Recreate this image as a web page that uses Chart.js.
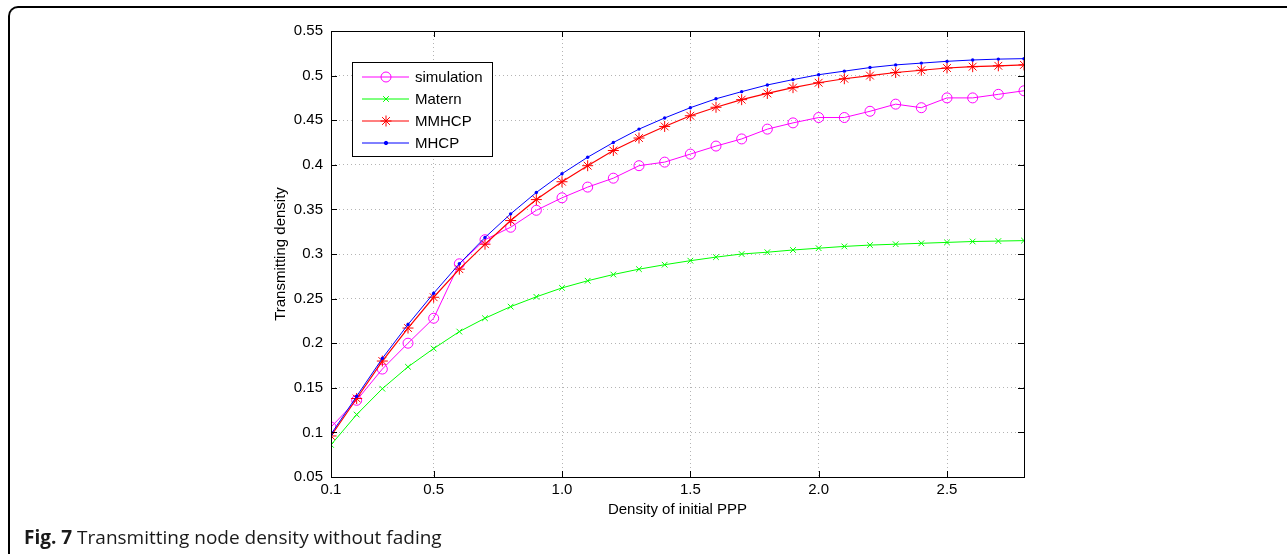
<!DOCTYPE html>
<html>
<head>
<meta charset="utf-8">
<script src="https://cdn.jsdelivr.net/npm/chart.js@4"></script>
<style>
  body { margin: 0; background: #fff; }
  #wrap { position: relative; width: 1287px; height: 554px; overflow: hidden; }
  #frame {
    position: absolute; left: 8px; top: 6px; width: 1300px; height: 556px;
    border-left: 2px solid #000; border-top: 2px solid #000;
    border-top-left-radius: 10px; border-bottom-left-radius: 10px;
  }
  #chart { position: absolute; left: 0; top: 0; }
  #caption {
    position: absolute; left: 24px; top: 524px;
    font-family: "Open Sans", sans-serif; font-size: 19px; color: #1a1a1a;
  }
</style>
</head>
<body>
<div id="wrap">
  <div id="frame"></div>
  <canvas id="chart" width="1287" height="554"></canvas>
  <div id="caption"><b>Fig. 7</b> Transmitting node density without fading</div>
</div>
<script>
// density of initial PPP
const xValues = [0.1, 0.2, 0.3, 0.4, 0.5, 0.6, 0.7, 0.8, 0.9, 1.0,
  1.1, 1.2, 1.3, 1.4, 1.5, 1.6, 1.7, 1.8, 1.9, 2.0,
  2.1, 2.2, 2.3, 2.4, 2.5, 2.6, 2.7, 2.8];

const simulation = [0.106, 0.136, 0.171, 0.200, 0.228, 0.289, 0.316, 0.330, 0.349, 0.363,
  0.375, 0.385, 0.399, 0.403, 0.412, 0.421, 0.429, 0.440, 0.447, 0.453,
  0.453, 0.460, 0.468, 0.464, 0.475, 0.475, 0.479, 0.483];
const matern = [0.086, 0.120, 0.149, 0.1735, 0.194, 0.213, 0.228, 0.241, 0.252, 0.262,
  0.270, 0.277, 0.283, 0.288, 0.2925, 0.2965, 0.300, 0.302, 0.3045, 0.3065,
  0.3085, 0.310, 0.311, 0.312, 0.313, 0.314, 0.3145, 0.315];
const mmhcp = [0.096, 0.138, 0.180, 0.217, 0.2515, 0.283, 0.311, 0.3375, 0.361, 0.381,
  0.399, 0.416, 0.430, 0.443, 0.455, 0.4645, 0.473, 0.480, 0.4865, 0.492,
  0.4965, 0.500, 0.5035, 0.506, 0.5085, 0.510, 0.511, 0.512];
const mhcp = [0.098, 0.1405, 0.183, 0.221, 0.256, 0.289, 0.3185, 0.345, 0.369, 0.390,
  0.4085, 0.425, 0.440, 0.4525, 0.464, 0.474, 0.482, 0.4895, 0.4955, 0.501,
  0.505, 0.509, 0.512, 0.514, 0.516, 0.5175, 0.5185, 0.519];

const xTicks = [0.1, 0.5, 1.0, 1.5, 2.0, 2.5];
const xTickLabels = ['0.1', '0.5', '1.0', '1.5', '2.0', '2.5'];
const yTicks = [0.05, 0.1, 0.15, 0.2, 0.25, 0.3, 0.35, 0.4, 0.45, 0.5, 0.55];
const yTickLabels = ['0.05', '0.1', '0.15', '0.2', '0.25', '0.3', '0.35', '0.4', '0.45', '0.5', '0.55'];

const FONT = '"Liberation Sans", Arial, sans-serif';

function pts(ys) {
  return ys.map((y, i) => ({ x: xValues[i], y: y }));
}

// MATLAB style box with inward ticks
const boxPlugin = {
  id: 'box',
  afterDatasetsDraw(chart) {
    const { ctx, chartArea: a, scales } = chart;
    ctx.save();
    ctx.strokeStyle = '#000';
    ctx.lineWidth = 1;
    ctx.beginPath();
    xTicks.forEach(v => {
      const px = Math.round(scales.x.getPixelForValue(v)) + 0.5;
      ctx.moveTo(px, a.bottom); ctx.lineTo(px, a.bottom - 6);
      ctx.moveTo(px, a.top); ctx.lineTo(px, a.top + 6);
    });
    yTicks.forEach(v => {
      const py = Math.round(scales.y.getPixelForValue(v)) + 0.5;
      ctx.moveTo(a.left, py); ctx.lineTo(a.left + 6, py);
      ctx.moveTo(a.right, py); ctx.lineTo(a.right - 6, py);
    });
    ctx.stroke();
    ctx.strokeRect(Math.round(a.left) + 0.5, Math.round(a.top) + 0.5,
      Math.round(a.right - a.left), Math.round(a.bottom - a.top));
    ctx.restore();
  }
};

// legend box inside the plot, top left
const legendPlugin = {
  id: 'boxLegend',
  afterDraw(chart) {
    const { ctx, chartArea: a } = chart;
    const x0 = a.left + 21, y0 = a.top + 31, w = 140, h = 94;
    ctx.save();
    ctx.fillStyle = '#fff';
    ctx.fillRect(x0, y0, w, h);
    ctx.strokeStyle = '#000';
    ctx.lineWidth = 1;
    ctx.strokeRect(x0 + 0.5, y0 + 0.5, w, h);
    ctx.font = '15px ' + FONT;
    ctx.textBaseline = 'middle';
    chart.data.datasets.forEach((ds, i) => {
      const y = y0 + 15 + i * 22;
      ctx.strokeStyle = ds.borderColor;
      ctx.lineWidth = ds.borderWidth;
      ctx.beginPath();
      ctx.moveTo(x0 + 10, y); ctx.lineTo(x0 + 57, y);
      ctx.stroke();
      ctx.fillStyle = ds.pointBackgroundColor;
      ctx.strokeStyle = ds.borderColor;
      ctx.lineWidth = 1;
      Chart.helpers.drawPoint(ctx, {
        pointStyle: ds.pointStyle, radius: ds.pointRadius, borderWidth: 1, rotation: 0
      }, x0 + 34, y);
      ctx.fillStyle = '#000';
      ctx.fillText(ds.label, x0 + 63, y + 1);
    });
    ctx.restore();
  }
};

new Chart(document.getElementById('chart'), {
  type: 'line',
  data: {
    datasets: [
      {
        label: 'simulation', data: pts(simulation), order: 4,
        borderColor: '#ff00ff', borderWidth: 1, pointStyle: 'circle', pointRadius: 5,
        pointBackgroundColor: 'rgba(0,0,0,0)', pointBorderColor: '#ff00ff', pointBorderWidth: 1
      },
      {
        label: 'Matern', data: pts(matern), order: 3,
        borderColor: '#00ff00', borderWidth: 1, pointStyle: 'crossRot', pointRadius: 4,
        pointBackgroundColor: '#00ff00', pointBorderColor: '#00ff00', pointBorderWidth: 1
      },
      {
        label: 'MMHCP', data: pts(mmhcp), order: 2,
        borderColor: '#ff0000', borderWidth: 1.2, pointStyle: 'star', pointRadius: 5.5,
        pointBackgroundColor: '#ff0000', pointBorderColor: '#ff0000', pointBorderWidth: 1
      },
      {
        label: 'MHCP', data: pts(mhcp), order: 1,
        borderColor: '#0000ff', borderWidth: 1, pointStyle: 'circle', pointRadius: 1.7,
        pointBackgroundColor: '#0000ff', pointBorderColor: '#0000ff', pointBorderWidth: 0
      }
    ]
  },
  options: {
    responsive: false,
    animation: false,
    devicePixelRatio: 1,
    layout: { padding: { left: 272, right: 263, top: 31, bottom: 35 } },
    plugins: { legend: { display: false }, tooltip: { enabled: false } },
    scales: {
      x: {
        type: 'linear', min: 0.1, max: 2.8,
        afterBuildTicks: s => { s.ticks = xTicks.map(v => ({ value: v })); },
        afterFit: s => { s.height = 42; },
        ticks: {
          autoSkip: false, maxRotation: 0, padding: 4, color: '#000',
          font: { family: FONT, size: 15 },
          callback: (v, i) => xTickLabels[i]
        },
        grid: { color: '#b4b4b4', drawTicks: false, tickLength: 0, borderDash: [1, 3] },
        border: { display: false, dash: [1, 3] },
        title: {
          display: true, text: 'Density of initial PPP', color: '#000',
          font: { family: FONT, size: 15 }, padding: 0
        }
      },
      y: {
        min: 0.05, max: 0.55,
        afterBuildTicks: s => { s.ticks = yTicks.map(v => ({ value: v })); },
        afterFit: s => { s.width = 59; },
        ticks: {
          padding: 8, color: '#000',
          font: { family: FONT, size: 15 },
          callback: (v, i) => yTickLabels[i]
        },
        grid: { color: '#b4b4b4', drawTicks: false, tickLength: 0, borderDash: [1, 3] },
        border: { display: false, dash: [1, 3] },
        title: {
          display: true, text: 'Transmitting density', color: '#000',
          font: { family: FONT, size: 15 }, padding: 0
        }
      }
    }
  },
  plugins: [boxPlugin, legendPlugin]
});
</script>
</body>
</html>
